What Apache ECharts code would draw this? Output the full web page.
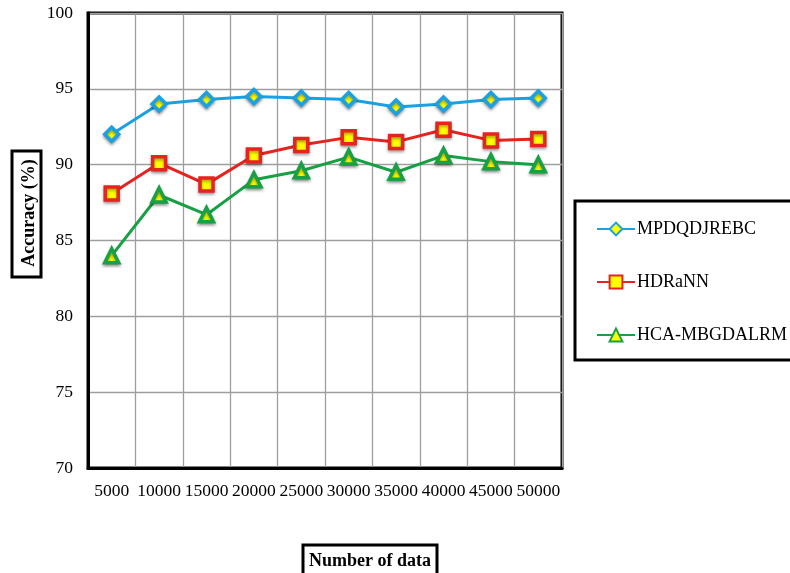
<!DOCTYPE html>
<html>
<head>
<meta charset="utf-8">
<script src="https://cdn.jsdelivr.net/npm/echarts@6/dist/echarts.min.js"></script>
<style>
  html, body { margin: 0; padding: 0; background: #fff; }
  #chart { width: 790px; height: 573px; }
</style>
</head>
<body>
<div id="chart"></div>
<script>
// Accuracy versus dataset size for three methods
const categories = ['5000', '10000', '15000', '20000', '25000', '30000', '35000', '40000', '45000', '50000'];
const mpdqdjrebc = [92.0, 94.0, 94.3, 94.5, 94.4, 94.3, 93.8, 94.0, 94.3, 94.4];
const hdrann = [88.1, 90.1, 88.7, 90.6, 91.3, 91.8, 91.5, 92.3, 91.6, 91.7];
const hcaMbgdalrm = [84.0, 88.0, 86.7, 89.0, 89.6, 90.5, 89.5, 90.6, 90.2, 90.0];
const seriesNames = ['MPDQDJREBC', 'HDRaNN', 'HCA-MBGDALRM'];
const xTitle = 'Number of data';
const yTitle = 'Accuracy (%)';

const serif = '"Liberation Serif", "Times New Roman", serif';
const chart = echarts.init(document.getElementById('chart'));

function lineSeries(name, data, color, symbol, size) {
  return {
    name: name,
    type: 'line',
    data: data,
    symbol: symbol,
    symbolSize: size,
    lineStyle: { color: color, width: 3 },
    itemStyle: {
      color: '#ffff00',
      borderColor: color,
      borderWidth: 3.5,
      shadowColor: 'rgba(0,0,0,0.35)',
      shadowBlur: 3,
      shadowOffsetY: 2
    },
    emphasis: { disabled: true },
    animation: false
  };
}

chart.setOption({
  backgroundColor: '#fff',
  animation: false,
  grid: {
    left: 88, top: 13, right: 228, bottom: 105,
    show: true, borderColor: '#000', borderWidth: 3
  },
  xAxis: {
    type: 'category',
    data: categories,
    boundaryGap: true,
    axisLine: { lineStyle: { color: '#000', width: 3 } },
    axisTick: { show: false },
    axisLabel: { color: '#000', fontFamily: serif, fontSize: 17.5, margin: 14, interval: 0 },
    splitLine: { show: true, lineStyle: { color: '#9e9e9e', width: 1.3 } }
  },
  yAxis: {
    type: 'value',
    min: 70, max: 100, interval: 5,
    axisLine: { show: true, lineStyle: { color: '#000', width: 3 } },
    axisTick: { show: false },
    axisLabel: { color: '#000', fontFamily: serif, fontSize: 17.5, margin: 15 },
    splitLine: { show: true, lineStyle: { color: '#9e9e9e', width: 1.3 } }
  },
  legend: {
    orient: 'vertical',
    left: 591, top: 215,
    itemWidth: 38, itemHeight: 16,
    itemGap: 35,
    data: seriesNames,
    textStyle: { color: '#000', fontFamily: serif, fontSize: 18, padding: [2, 0, 0, -3] },
    selectedMode: false
  },
  graphic: [
    {
      // legend frame
      type: 'rect',
      shape: { x: 575, y: 201, width: 240, height: 159 },
      style: { fill: 'none', stroke: '#000', lineWidth: 3 },
      z: 0
    },
    {
      // y-axis title frame
      type: 'rect',
      shape: { x: 12, y: 151, width: 29, height: 126 },
      style: { fill: '#fff', stroke: '#000', lineWidth: 3 }
    },
    {
      type: 'text',
      x: 29, y: 213,
      rotation: Math.PI / 2,
      style: {
        text: yTitle, fill: '#000', font: 'bold 18px ' + serif,
        align: 'center', verticalAlign: 'middle'
      }
    },
    {
      // x-axis title frame
      type: 'rect',
      shape: { x: 303, y: 545, width: 134, height: 40 },
      style: { fill: '#fff', stroke: '#000', lineWidth: 3 }
    },
    {
      type: 'text',
      x: 370, y: 561,
      style: {
        text: xTitle, fill: '#000', font: 'bold 18px ' + serif,
        align: 'center', verticalAlign: 'middle'
      }
    }
  ],
  series: [
    lineSeries(seriesNames[0], mpdqdjrebc, '#1ba1e2', 'diamond', 14),
    lineSeries(seriesNames[1], hdrann, '#e5231f', 'rect', 13),
    lineSeries(seriesNames[2], hcaMbgdalrm, '#17a044', 'triangle', 14)
  ]
});
</script>
</body>
</html>
